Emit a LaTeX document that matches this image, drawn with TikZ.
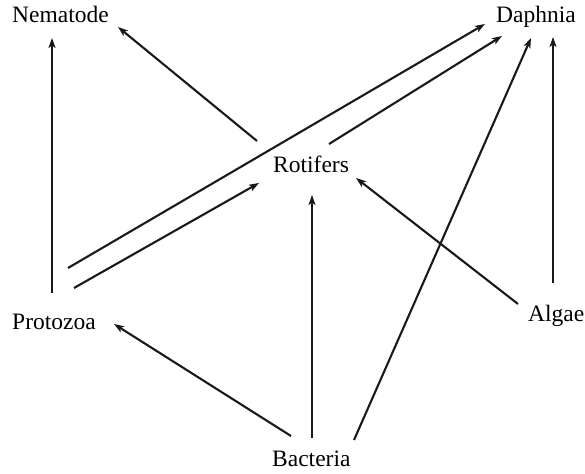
\documentclass[tikz,border=0pt]{standalone}
\usepackage{fontspec}
\setmainfont{Liberation Serif}
\usetikzlibrary{arrows.meta}
\begin{document}
\begin{tikzpicture}[x=1pt,y=-1pt,
  lbl/.style={anchor=base west,inner sep=0pt,font=\fontsize{23.5}{28}\selectfont},
  link/.style={line width=2.1pt,color=black!90,-{Stealth[length=10pt,width=7pt,inset=2.5pt]}}]
\useasboundingbox (0,0) rectangle (585,473);
% labels
\node[lbl] (nem) at (12,23) {Nematode};
\node[lbl] (daph) at (496,23) {Daphnia};
\node[lbl] (rot) at (273,172) {Rotifers};
\node[lbl] (prot) at (12,329) {Protozoa};
\node[lbl] (alg) at (528,321) {Algae};
\node[lbl] (bact) at (272,466) {Bacteria};
% connector end points
\coordinate (pn0) at (52,293);  \coordinate (pn1) at (52,38);
\coordinate (rn0) at (257,141); \coordinate (rn1) at (118,27);
\coordinate (rd0) at (329,144); \coordinate (rd1) at (502,36);
\coordinate (pd0) at (68,268);  \coordinate (pd1) at (485,24);
\coordinate (pr0) at (74,288);  \coordinate (pr1) at (259,183);
\coordinate (ar0) at (518,304); \coordinate (ar1) at (356,178);
\coordinate (br0) at (312,438); \coordinate (br1) at (312,195);
\coordinate (bd0) at (354,440); \coordinate (bd1) at (531,38);
\coordinate (ad0) at (553,283); \coordinate (ad1) at (553,37);
\coordinate (bp0) at (291,436); \coordinate (bp1) at (114,324);
% connectors
\draw[link] (pn0) -- (pn1);
\draw[link] (rn0) -- (rn1);
\draw[link] (rd0) -- (rd1);
\draw[link] (pd0) -- (pd1);
\draw[link] (pr0) -- (pr1);
\draw[link] (ar0) -- (ar1);
\draw[link] (br0) -- (br1);
\draw[link] (bd0) -- (bd1);
\draw[link] (ad0) -- (ad1);
\draw[link] (bp0) -- (bp1);
\end{tikzpicture}
\end{document}
